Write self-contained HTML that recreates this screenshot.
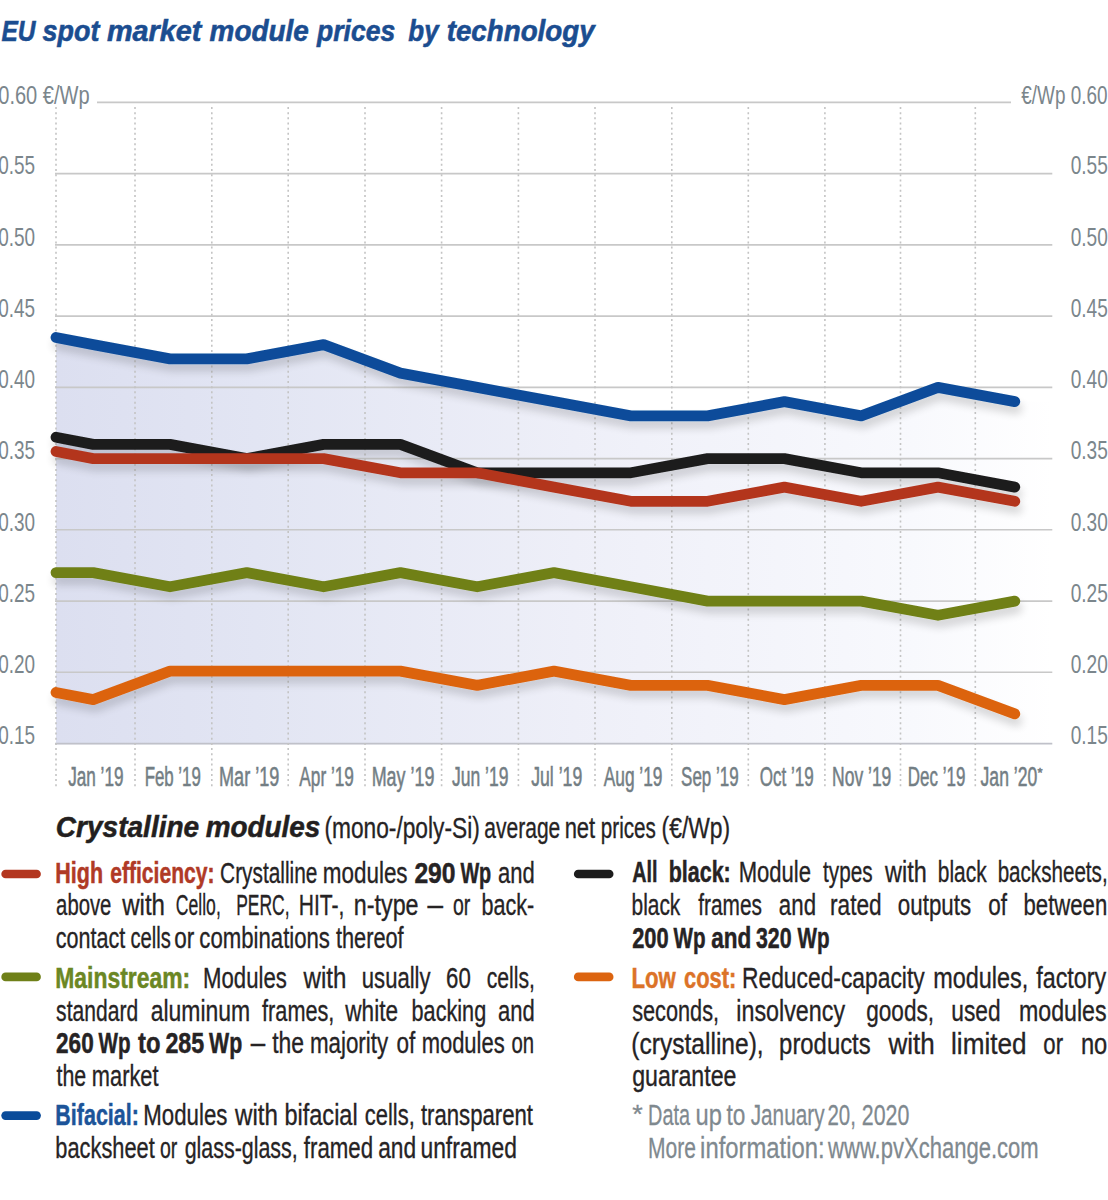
<!DOCTYPE html>
<html><head><meta charset="utf-8">
<style>
html,body{margin:0;padding:0;background:#fff;}
body{width:1108px;height:1200px;overflow:hidden;position:relative;}
svg{position:absolute;left:0;top:0;font-family:'Liberation Sans', sans-serif;}
.s_r{font-weight:normal;font-style:normal;font-size:30px;fill:#262324;stroke:#262324;stroke-width:0.35px}
.s_b{font-weight:bold;font-style:normal;font-size:30px;fill:#262324;stroke:#262324;stroke-width:0.5px}
.s_br{font-weight:bold;font-style:normal;font-size:30px;fill:#b03a26;stroke:#b03a26;stroke-width:0.5px}
.s_bg{font-weight:bold;font-style:normal;font-size:30px;fill:#6b8724;stroke:#6b8724;stroke-width:0.5px}
.s_bb{font-weight:bold;font-style:normal;font-size:30px;fill:#1c5499;stroke:#1c5499;stroke-width:0.5px}
.s_bo{font-weight:bold;font-style:normal;font-size:30px;fill:#dc7328;stroke:#dc7328;stroke-width:0.5px}
.s_g{font-weight:normal;font-style:normal;font-size:30px;fill:#7f898f;stroke:#7f898f;stroke-width:0.3px}
.s_hd{font-weight:bold;font-style:italic;font-size:29px;fill:#231f20;stroke:#231f20;stroke-width:0.5px}
.s_t{font-weight:bold;font-style:italic;font-size:30px;fill:#1b4d90;stroke:#1b4d90;stroke-width:0.6px}
.s_ax{font-weight:normal;font-style:normal;font-size:26px;fill:#7b868c}
.s_mo{font-weight:normal;font-style:normal;font-size:27px;fill:#737e84;stroke:#737e84;stroke-width:0.55px}

</style></head><body>
<svg width="1108" height="1200" viewBox="0 0 1108 1200">
<defs>
<linearGradient id="fillg" gradientUnits="userSpaceOnUse" x1="56" y1="0" x2="1052" y2="0">
<stop offset="0" stop-color="#dcdff0"/><stop offset="0.2" stop-color="#e2e5f3"/><stop offset="0.52" stop-color="#eeeff8"/><stop offset="0.86" stop-color="#f8f9fd"/><stop offset="1" stop-color="#ffffff"/>
</linearGradient>
<filter id="sh" x="-5%" y="-50%" width="110%" height="200%">
<feGaussianBlur in="SourceAlpha" stdDeviation="4.5"/>
<feOffset dx="2" dy="6.5"/>
<feComponentTransfer><feFuncA type="linear" slope="0.16"/></feComponentTransfer>
<feMerge><feMergeNode/><feMergeNode in="SourceGraphic"/></feMerge>
</filter>
</defs>
<polygon points="56.0,744.3 56.0,337.5 93.2,344.6 170.0,358.9 246.8,358.9 323.6,344.6 400.4,373.1 477.2,387.4 554.0,401.6 630.8,415.9 707.6,415.9 784.4,401.6 861.2,415.9 938.0,387.4 1014.8,401.6 1052,401.6 1052,744.3" fill="url(#fillg)"/><line x1="97" y1="102.4" x2="1011" y2="102.4" stroke="#c8c8c8" stroke-width="1.6"/><line x1="55" y1="173.6" x2="1052.3" y2="173.6" stroke="#c8c8c8" stroke-width="1.6"/><line x1="55" y1="244.9" x2="1052.3" y2="244.9" stroke="#c8c8c8" stroke-width="1.6"/><line x1="55" y1="316.1" x2="1052.3" y2="316.1" stroke="#c8c8c8" stroke-width="1.6"/><line x1="55" y1="387.4" x2="1052.3" y2="387.4" stroke="#c8c8c8" stroke-width="1.6"/><line x1="55" y1="458.6" x2="1052.3" y2="458.6" stroke="#c8c8c8" stroke-width="1.6"/><line x1="55" y1="529.8" x2="1052.3" y2="529.8" stroke="#c8c8c8" stroke-width="1.6"/><line x1="55" y1="601.1" x2="1052.3" y2="601.1" stroke="#c8c8c8" stroke-width="1.6"/><line x1="55" y1="672.3" x2="1052.3" y2="672.3" stroke="#c8c8c8" stroke-width="1.6"/><line x1="55" y1="743.6" x2="1052.3" y2="743.6" stroke="#c0c1c9" stroke-width="1.6"/><line x1="56.0" y1="107" x2="56.0" y2="786.5" stroke="#c4c4c4" stroke-width="1.6" stroke-dasharray="2 3.17"/><line x1="135.0" y1="107" x2="135.0" y2="786.5" stroke="#c4c4c4" stroke-width="1.6" stroke-dasharray="2 3.17"/><line x1="211.8" y1="107" x2="211.8" y2="786.5" stroke="#c4c4c4" stroke-width="1.6" stroke-dasharray="2 3.17"/><line x1="288.2" y1="107" x2="288.2" y2="786.5" stroke="#c4c4c4" stroke-width="1.6" stroke-dasharray="2 3.17"/><line x1="365.0" y1="107" x2="365.0" y2="786.5" stroke="#c4c4c4" stroke-width="1.6" stroke-dasharray="2 3.17"/><line x1="441.6" y1="107" x2="441.6" y2="786.5" stroke="#c4c4c4" stroke-width="1.6" stroke-dasharray="2 3.17"/><line x1="518.4" y1="107" x2="518.4" y2="786.5" stroke="#c4c4c4" stroke-width="1.6" stroke-dasharray="2 3.17"/><line x1="595.0" y1="107" x2="595.0" y2="786.5" stroke="#c4c4c4" stroke-width="1.6" stroke-dasharray="2 3.17"/><line x1="671.8" y1="107" x2="671.8" y2="786.5" stroke="#c4c4c4" stroke-width="1.6" stroke-dasharray="2 3.17"/><line x1="748.3" y1="107" x2="748.3" y2="786.5" stroke="#c4c4c4" stroke-width="1.6" stroke-dasharray="2 3.17"/><line x1="824.9" y1="107" x2="824.9" y2="786.5" stroke="#c4c4c4" stroke-width="1.6" stroke-dasharray="2 3.17"/><line x1="900.5" y1="107" x2="900.5" y2="786.5" stroke="#c4c4c4" stroke-width="1.6" stroke-dasharray="2 3.17"/><line x1="975.3" y1="107" x2="975.3" y2="786.5" stroke="#c4c4c4" stroke-width="1.6" stroke-dasharray="2 3.17"/><polyline points="56.0,572.6 93.2,572.6 170.0,586.8 246.8,572.6 323.6,586.8 400.4,572.6 477.2,586.8 554.0,572.6 630.8,586.8 707.6,601.1 784.4,601.1 861.2,601.1 938.0,615.3 1014.8,601.1" fill="none" stroke="#6f8018" stroke-width="10.8" stroke-linecap="round" stroke-linejoin="round" filter="url(#sh)"/><polyline points="56.0,692.5 93.2,699.6 170.0,671.1 246.8,671.1 323.6,671.1 400.4,671.1 477.2,685.4 554.0,671.1 630.8,685.4 707.6,685.4 784.4,699.6 861.2,685.4 938.0,685.4 1014.8,713.9" fill="none" stroke="#dc6410" stroke-width="10.8" stroke-linecap="round" stroke-linejoin="round" filter="url(#sh)"/><polyline points="56.0,437.2 93.2,444.4 170.0,444.4 246.8,458.6 323.6,444.4 400.4,444.4 477.2,472.8 554.0,472.8 630.8,472.8 707.6,458.6 784.4,458.6 861.2,472.8 938.0,472.8 1014.8,487.1" fill="none" stroke="#1c1c1c" stroke-width="10.8" stroke-linecap="round" stroke-linejoin="round" filter="url(#sh)"/><polyline points="56.0,451.5 93.2,458.6 170.0,458.6 246.8,458.6 323.6,458.6 400.4,472.8 477.2,472.8 554.0,487.1 630.8,501.3 707.6,501.3 784.4,487.1 861.2,501.3 938.0,487.1 1014.8,501.3" fill="none" stroke="#b3361f" stroke-width="10.8" stroke-linecap="round" stroke-linejoin="round" filter="url(#sh)"/><polyline points="56.0,337.5 93.2,344.6 170.0,358.9 246.8,358.9 323.6,344.6 400.4,373.1 477.2,387.4 554.0,401.6 630.8,415.9 707.6,415.9 784.4,401.6 861.2,415.9 938.0,387.4 1014.8,401.6" fill="none" stroke="#0b4c9a" stroke-width="10.8" stroke-linecap="round" stroke-linejoin="round" filter="url(#sh)"/>
<line x1="5.6" y1="874" x2="36.6" y2="874" stroke="#b3361f" stroke-width="8.6" stroke-linecap="round"/><line x1="5.6" y1="976.9" x2="36.6" y2="976.9" stroke="#6f8018" stroke-width="8.6" stroke-linecap="round"/><line x1="5.6" y1="1115.6" x2="36.6" y2="1115.6" stroke="#0b4c9a" stroke-width="8.6" stroke-linecap="round"/><line x1="578.2" y1="874" x2="609.2" y2="874" stroke="#1c1c1c" stroke-width="8.6" stroke-linecap="round"/><line x1="578.2" y1="976.9" x2="609.2" y2="976.9" stroke="#dc6410" stroke-width="8.6" stroke-linecap="round"/>
<text class="s_hd" x="55.83" y="837.10" textLength="143.35" lengthAdjust="spacingAndGlyphs">Crystalline</text><text class="s_hd" x="205.70" y="837.10" textLength="114.70" lengthAdjust="spacingAndGlyphs">modules</text><text class="s_r" x="324.38" y="838.00" textLength="155.38" lengthAdjust="spacingAndGlyphs">(mono-/poly-Si)</text><text class="s_r" x="484.30" y="838.00" textLength="76.00" lengthAdjust="spacingAndGlyphs">average</text><text class="s_r" x="564.63" y="838.00" textLength="30.56" lengthAdjust="spacingAndGlyphs">net</text><text class="s_r" x="600.82" y="838.00" textLength="55.09" lengthAdjust="spacingAndGlyphs">prices</text><text class="s_r" x="661.58" y="838.00" textLength="68.55" lengthAdjust="spacingAndGlyphs">(€/Wp)</text><text class="s_br" x="55.37" y="883.20" textLength="47.72" lengthAdjust="spacingAndGlyphs">High</text><text class="s_br" x="110.20" y="883.20" textLength="104.39" lengthAdjust="spacingAndGlyphs">efficiency:</text><text class="s_r" x="220.11" y="883.20" textLength="97.22" lengthAdjust="spacingAndGlyphs">Crystalline</text><text class="s_r" x="322.80" y="883.20" textLength="84.80" lengthAdjust="spacingAndGlyphs">modules</text><text class="s_b" x="414.38" y="883.20" textLength="41.20" lengthAdjust="spacingAndGlyphs">290</text><text class="s_b" x="460.40" y="883.20" textLength="30.82" lengthAdjust="spacingAndGlyphs">Wp</text><text class="s_r" x="497.97" y="883.20" textLength="36.75" lengthAdjust="spacingAndGlyphs">and</text><text class="s_r" x="56.12" y="915.30" textLength="55.28" lengthAdjust="spacingAndGlyphs">above</text><text class="s_r" x="122.20" y="915.30" textLength="42.79" lengthAdjust="spacingAndGlyphs">with</text><text class="s_r" x="175.81" y="915.30" textLength="44.97" lengthAdjust="spacingAndGlyphs">Cello,</text><text class="s_r" x="236.13" y="915.30" textLength="53.43" lengthAdjust="spacingAndGlyphs">PERC,</text><text class="s_r" x="298.80" y="915.30" textLength="45.61" lengthAdjust="spacingAndGlyphs">HIT-,</text><text class="s_r" x="353.85" y="915.30" textLength="64.73" lengthAdjust="spacingAndGlyphs">n-type</text><text class="s_r" x="427.60" y="915.30" textLength="15.51" lengthAdjust="spacingAndGlyphs">–</text><text class="s_r" x="452.95" y="915.30" textLength="17.35" lengthAdjust="spacingAndGlyphs">or</text><text class="s_r" x="481.46" y="915.30" textLength="52.71" lengthAdjust="spacingAndGlyphs">back-</text><text class="s_r" x="55.78" y="948.20" textLength="69.43" lengthAdjust="spacingAndGlyphs">contact</text><text class="s_r" x="130.53" y="948.20" textLength="40.36" lengthAdjust="spacingAndGlyphs">cells</text><text class="s_r" x="174.35" y="948.20" textLength="20.02" lengthAdjust="spacingAndGlyphs">or</text><text class="s_r" x="199.36" y="948.20" textLength="130.60" lengthAdjust="spacingAndGlyphs">combinations</text><text class="s_r" x="335.90" y="948.20" textLength="67.77" lengthAdjust="spacingAndGlyphs">thereof</text><text class="s_bg" x="55.27" y="988.10" textLength="134.90" lengthAdjust="spacingAndGlyphs">Mainstream:</text><text class="s_r" x="203.12" y="988.10" textLength="83.68" lengthAdjust="spacingAndGlyphs">Modules</text><text class="s_r" x="303.50" y="988.10" textLength="42.89" lengthAdjust="spacingAndGlyphs">with</text><text class="s_r" x="361.83" y="988.10" textLength="68.72" lengthAdjust="spacingAndGlyphs">usually</text><text class="s_r" x="446.06" y="988.10" textLength="24.72" lengthAdjust="spacingAndGlyphs">60</text><text class="s_r" x="486.70" y="988.10" textLength="48.17" lengthAdjust="spacingAndGlyphs">cells,</text><text class="s_r" x="56.10" y="1020.50" textLength="82.03" lengthAdjust="spacingAndGlyphs">standard</text><text class="s_r" x="150.74" y="1020.50" textLength="99.44" lengthAdjust="spacingAndGlyphs">aluminum</text><text class="s_r" x="262.10" y="1020.50" textLength="72.27" lengthAdjust="spacingAndGlyphs">frames,</text><text class="s_r" x="345.30" y="1020.50" textLength="52.69" lengthAdjust="spacingAndGlyphs">white</text><text class="s_r" x="411.56" y="1020.50" textLength="74.66" lengthAdjust="spacingAndGlyphs">backing</text><text class="s_r" x="497.97" y="1020.50" textLength="36.75" lengthAdjust="spacingAndGlyphs">and</text><text class="s_b" x="56.05" y="1053.30" textLength="37.65" lengthAdjust="spacingAndGlyphs">260</text><text class="s_b" x="98.50" y="1053.30" textLength="32.04" lengthAdjust="spacingAndGlyphs">Wp</text><text class="s_b" x="138.00" y="1053.30" textLength="22.45" lengthAdjust="spacingAndGlyphs">to</text><text class="s_b" x="165.42" y="1053.30" textLength="38.80" lengthAdjust="spacingAndGlyphs">285</text><text class="s_b" x="209.10" y="1053.30" textLength="33.16" lengthAdjust="spacingAndGlyphs">Wp</text><text class="s_r" x="250.80" y="1053.30" textLength="14.43" lengthAdjust="spacingAndGlyphs">–</text><text class="s_r" x="272.20" y="1053.30" textLength="31.85" lengthAdjust="spacingAndGlyphs">the</text><text class="s_r" x="309.91" y="1053.30" textLength="78.20" lengthAdjust="spacingAndGlyphs">majority</text><text class="s_r" x="396.45" y="1053.30" textLength="18.77" lengthAdjust="spacingAndGlyphs">of</text><text class="s_r" x="421.64" y="1053.30" textLength="83.06" lengthAdjust="spacingAndGlyphs">modules</text><text class="s_r" x="511.52" y="1053.30" textLength="22.61" lengthAdjust="spacingAndGlyphs">on</text><text class="s_r" x="56.50" y="1085.70" textLength="29.71" lengthAdjust="spacingAndGlyphs">the</text><text class="s_r" x="91.84" y="1085.70" textLength="66.73" lengthAdjust="spacingAndGlyphs">market</text><text class="s_bb" x="55.37" y="1124.80" textLength="83.47" lengthAdjust="spacingAndGlyphs">Bifacial:</text><text class="s_r" x="143.32" y="1124.80" textLength="84.08" lengthAdjust="spacingAndGlyphs">Modules</text><text class="s_r" x="235.00" y="1124.80" textLength="42.89" lengthAdjust="spacingAndGlyphs">with</text><text class="s_r" x="284.43" y="1124.80" textLength="73.26" lengthAdjust="spacingAndGlyphs">bifacial</text><text class="s_r" x="364.87" y="1124.80" textLength="49.85" lengthAdjust="spacingAndGlyphs">cells,</text><text class="s_r" x="420.90" y="1124.80" textLength="112.13" lengthAdjust="spacingAndGlyphs">transparent</text><text class="s_r" x="55.35" y="1158.20" textLength="99.38" lengthAdjust="spacingAndGlyphs">backsheet</text><text class="s_r" x="159.95" y="1158.20" textLength="17.35" lengthAdjust="spacingAndGlyphs">or</text><text class="s_r" x="184.69" y="1158.20" textLength="113.03" lengthAdjust="spacingAndGlyphs">glass-glass,</text><text class="s_r" x="303.80" y="1158.20" textLength="69.22" lengthAdjust="spacingAndGlyphs">framed</text><text class="s_r" x="378.24" y="1158.20" textLength="37.92" lengthAdjust="spacingAndGlyphs">and</text><text class="s_r" x="420.48" y="1158.20" textLength="96.45" lengthAdjust="spacingAndGlyphs">unframed</text><text class="s_b" x="632.24" y="881.90" textLength="25.24" lengthAdjust="spacingAndGlyphs">All</text><text class="s_b" x="668.67" y="881.90" textLength="62.08" lengthAdjust="spacingAndGlyphs">black:</text><text class="s_r" x="738.63" y="881.90" textLength="72.41" lengthAdjust="spacingAndGlyphs">Module</text><text class="s_r" x="823.10" y="881.90" textLength="49.50" lengthAdjust="spacingAndGlyphs">types</text><text class="s_r" x="885.10" y="881.90" textLength="41.66" lengthAdjust="spacingAndGlyphs">with</text><text class="s_r" x="937.81" y="881.90" textLength="48.83" lengthAdjust="spacingAndGlyphs">black</text><text class="s_r" x="997.63" y="881.90" textLength="110.01" lengthAdjust="spacingAndGlyphs">backsheets,</text><text class="s_r" x="631.51" y="915.30" textLength="48.83" lengthAdjust="spacingAndGlyphs">black</text><text class="s_r" x="698.30" y="915.30" textLength="63.68" lengthAdjust="spacingAndGlyphs">frames</text><text class="s_r" x="778.86" y="915.30" textLength="37.17" lengthAdjust="spacingAndGlyphs">and</text><text class="s_r" x="829.99" y="915.30" textLength="51.66" lengthAdjust="spacingAndGlyphs">rated</text><text class="s_r" x="897.86" y="915.30" textLength="73.26" lengthAdjust="spacingAndGlyphs">outputs</text><text class="s_r" x="988.15" y="915.30" textLength="18.77" lengthAdjust="spacingAndGlyphs">of</text><text class="s_r" x="1023.52" y="915.30" textLength="83.74" lengthAdjust="spacingAndGlyphs">between</text><text class="s_b" x="632.17" y="948.20" textLength="36.50" lengthAdjust="spacingAndGlyphs">200</text><text class="s_b" x="673.50" y="948.20" textLength="32.04" lengthAdjust="spacingAndGlyphs">Wp</text><text class="s_b" x="711.15" y="948.20" textLength="40.06" lengthAdjust="spacingAndGlyphs">and</text><text class="s_b" x="755.90" y="948.20" textLength="35.66" lengthAdjust="spacingAndGlyphs">320</text><text class="s_b" x="797.60" y="948.20" textLength="32.04" lengthAdjust="spacingAndGlyphs">Wp</text><text class="s_bo" x="631.42" y="988.10" textLength="44.38" lengthAdjust="spacingAndGlyphs">Low</text><text class="s_bo" x="684.07" y="988.10" textLength="52.29" lengthAdjust="spacingAndGlyphs">cost:</text><text class="s_r" x="741.98" y="988.10" textLength="182.73" lengthAdjust="spacingAndGlyphs">Reduced-capacity</text><text class="s_r" x="933.14" y="988.10" textLength="95.10" lengthAdjust="spacingAndGlyphs">modules,</text><text class="s_r" x="1036.20" y="988.10" textLength="70.02" lengthAdjust="spacingAndGlyphs">factory</text><text class="s_r" x="632.18" y="1020.50" textLength="86.83" lengthAdjust="spacingAndGlyphs">seconds,</text><text class="s_r" x="736.25" y="1020.50" textLength="108.81" lengthAdjust="spacingAndGlyphs">insolvency</text><text class="s_r" x="866.25" y="1020.50" textLength="67.82" lengthAdjust="spacingAndGlyphs">goods,</text><text class="s_r" x="951.29" y="1020.50" textLength="49.28" lengthAdjust="spacingAndGlyphs">used</text><text class="s_r" x="1018.96" y="1020.50" textLength="87.56" lengthAdjust="spacingAndGlyphs">modules</text><text class="s_r" x="631.26" y="1054.10" textLength="132.45" lengthAdjust="spacingAndGlyphs">(crystalline),</text><text class="s_r" x="779.11" y="1054.10" textLength="91.55" lengthAdjust="spacingAndGlyphs">products</text><text class="s_r" x="888.50" y="1054.10" textLength="46.28" lengthAdjust="spacingAndGlyphs">with</text><text class="s_r" x="951.06" y="1054.10" textLength="75.42" lengthAdjust="spacingAndGlyphs">limited</text><text class="s_r" x="1043.36" y="1054.10" textLength="19.71" lengthAdjust="spacingAndGlyphs">or</text><text class="s_r" x="1080.92" y="1054.10" textLength="26.37" lengthAdjust="spacingAndGlyphs">no</text><text class="s_r" x="632.13" y="1085.70" textLength="104.34" lengthAdjust="spacingAndGlyphs">guarantee</text><text class="s_g" x="648.08" y="1124.80" textLength="41.91" lengthAdjust="spacingAndGlyphs">Data</text><text class="s_g" x="695.62" y="1124.80" textLength="26.37" lengthAdjust="spacingAndGlyphs">up</text><text class="s_g" x="726.50" y="1124.80" textLength="18.88" lengthAdjust="spacingAndGlyphs">to</text><text class="s_g" x="750.71" y="1124.80" textLength="73.81" lengthAdjust="spacingAndGlyphs">January</text><text class="s_g" x="827.42" y="1124.80" textLength="28.43" lengthAdjust="spacingAndGlyphs">20,</text><text class="s_g" x="861.79" y="1124.80" textLength="47.55" lengthAdjust="spacingAndGlyphs">2020</text><text class="s_g" x="648.00" y="1158.20" textLength="47.96" lengthAdjust="spacingAndGlyphs">More</text><text class="s_g" x="700.11" y="1158.20" textLength="124.47" lengthAdjust="spacingAndGlyphs">information:</text><text class="s_g" x="828.10" y="1158.20" textLength="210.63" lengthAdjust="spacingAndGlyphs">www.pvXchange.com</text><text class="s_t" x="1.40" y="40.50" textLength="34.03" lengthAdjust="spacingAndGlyphs">EU</text><text class="s_t" x="42.60" y="40.50" textLength="56.80" lengthAdjust="spacingAndGlyphs">spot</text><text class="s_t" x="106.90" y="40.50" textLength="94.37" lengthAdjust="spacingAndGlyphs">market</text><text class="s_t" x="209.60" y="40.50" textLength="99.12" lengthAdjust="spacingAndGlyphs">module</text><text class="s_t" x="317.08" y="40.50" textLength="78.06" lengthAdjust="spacingAndGlyphs">prices</text><text class="s_t" x="408.30" y="40.50" textLength="30.25" lengthAdjust="spacingAndGlyphs">by</text><text class="s_t" x="446.68" y="40.50" textLength="147.91" lengthAdjust="spacingAndGlyphs">technology</text><text class="s_ax" x="-1.77" y="104.00" textLength="91.44" lengthAdjust="spacingAndGlyphs">0.60 €/Wp</text><text class="s_ax" x="1021.30" y="104.00" textLength="86.28" lengthAdjust="spacingAndGlyphs">€/Wp 0.60</text><text class="s_ax" x="-1.73" y="174.44" textLength="36.87" lengthAdjust="spacingAndGlyphs">0.55</text><text class="s_ax" x="1070.67" y="174.44" textLength="37.18" lengthAdjust="spacingAndGlyphs">0.55</text><text class="s_ax" x="-1.73" y="245.68" textLength="36.87" lengthAdjust="spacingAndGlyphs">0.50</text><text class="s_ax" x="1070.67" y="245.68" textLength="37.18" lengthAdjust="spacingAndGlyphs">0.50</text><text class="s_ax" x="-1.73" y="316.92" textLength="36.87" lengthAdjust="spacingAndGlyphs">0.45</text><text class="s_ax" x="1070.67" y="316.92" textLength="37.18" lengthAdjust="spacingAndGlyphs">0.45</text><text class="s_ax" x="-1.73" y="388.16" textLength="36.87" lengthAdjust="spacingAndGlyphs">0.40</text><text class="s_ax" x="1070.67" y="388.16" textLength="37.18" lengthAdjust="spacingAndGlyphs">0.40</text><text class="s_ax" x="-1.73" y="459.40" textLength="36.87" lengthAdjust="spacingAndGlyphs">0.35</text><text class="s_ax" x="1070.67" y="459.40" textLength="37.18" lengthAdjust="spacingAndGlyphs">0.35</text><text class="s_ax" x="-1.73" y="530.64" textLength="36.87" lengthAdjust="spacingAndGlyphs">0.30</text><text class="s_ax" x="1070.67" y="530.64" textLength="37.18" lengthAdjust="spacingAndGlyphs">0.30</text><text class="s_ax" x="-1.73" y="601.88" textLength="36.87" lengthAdjust="spacingAndGlyphs">0.25</text><text class="s_ax" x="1070.67" y="601.88" textLength="37.18" lengthAdjust="spacingAndGlyphs">0.25</text><text class="s_ax" x="-1.73" y="673.12" textLength="36.87" lengthAdjust="spacingAndGlyphs">0.20</text><text class="s_ax" x="1070.67" y="673.12" textLength="37.18" lengthAdjust="spacingAndGlyphs">0.20</text><text class="s_ax" x="-1.73" y="744.36" textLength="36.87" lengthAdjust="spacingAndGlyphs">0.15</text><text class="s_ax" x="1070.67" y="744.36" textLength="37.18" lengthAdjust="spacingAndGlyphs">0.15</text><text class="s_mo" x="68.20" y="785.80" textLength="55.28" lengthAdjust="spacingAndGlyphs">Jan ’19</text><text class="s_mo" x="144.65" y="785.80" textLength="56.21" lengthAdjust="spacingAndGlyphs">Feb ’19</text><text class="s_mo" x="219.06" y="785.80" textLength="60.33" lengthAdjust="spacingAndGlyphs">Mar ’19</text><text class="s_mo" x="299.30" y="785.80" textLength="54.66" lengthAdjust="spacingAndGlyphs">Apr ’19</text><text class="s_mo" x="371.67" y="785.80" textLength="62.69" lengthAdjust="spacingAndGlyphs">May ’19</text><text class="s_mo" x="452.00" y="785.80" textLength="56.50" lengthAdjust="spacingAndGlyphs">Jun ’19</text><text class="s_mo" x="531.20" y="785.80" textLength="51.09" lengthAdjust="spacingAndGlyphs">Jul ’19</text><text class="s_mo" x="603.70" y="785.80" textLength="58.77" lengthAdjust="spacingAndGlyphs">Aug ’19</text><text class="s_mo" x="681.07" y="785.80" textLength="57.59" lengthAdjust="spacingAndGlyphs">Sep ’19</text><text class="s_mo" x="759.77" y="785.80" textLength="53.98" lengthAdjust="spacingAndGlyphs">Oct ’19</text><text class="s_mo" x="832.00" y="785.80" textLength="59.35" lengthAdjust="spacingAndGlyphs">Nov ’19</text><text class="s_mo" x="907.84" y="785.80" textLength="57.50" lengthAdjust="spacingAndGlyphs">Dec ’19</text><text class="s_mo" x="980.60" y="785.80" textLength="56.60" lengthAdjust="spacingAndGlyphs">Jan ’20</text>
<text class="s_g" x="632.3" y="1122.5" style="font-size:25px" textLength="10.5" lengthAdjust="spacingAndGlyphs">*</text>
<text class="s_mo" x="1037.5" y="777" style="font-size:13px;font-weight:normal">*</text>
</svg>
</body></html>
